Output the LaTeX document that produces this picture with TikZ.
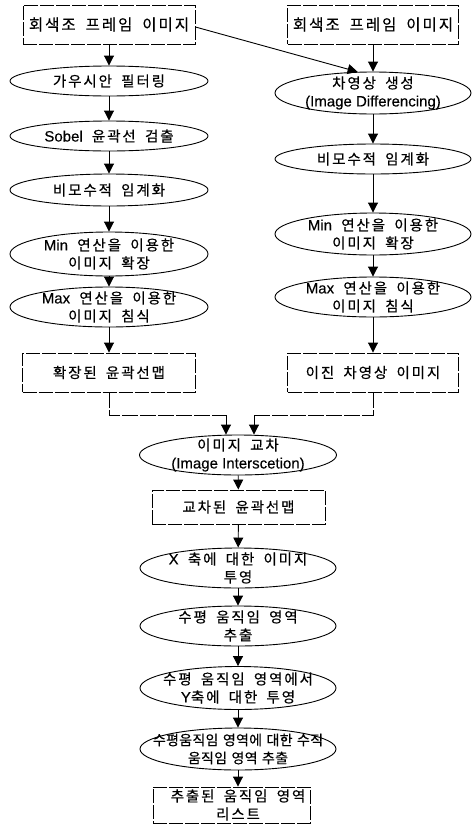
\documentclass[tikz,border=0pt]{standalone}
\usepackage{fontspec}
\usetikzlibrary{arrows.meta,shapes.geometric}
\newfontfamily\kr{Noto Sans CJK KR}[LetterSpace=13,WordSpace=1.8,FakeBold=0.4]
\newfontfamily\krtight{Noto Sans CJK KR}[LetterSpace=2,WordSpace=1.3,FakeBold=0.4]
\newfontfamily\lat{Liberation Sans}[FakeBold=0.3]
\newcommand\La[1]{{\lat\fontsize{15}{18}\selectfont #1}}
\tikzset{
  box/.style={draw, line width=0.9pt, dash pattern=on 14pt off 2pt, inner sep=0pt,
    align=center, font=\kr\fontsize{14.5}{17.5}\selectfont},
  topbox/.style={box, font=\kr\fontsize{15.5}{18}\selectfont},
  oval/.style={draw, ellipse, line width=0.9pt, inner sep=0pt},
  txt/.style={inner sep=0pt, align=center, font=\kr\fontsize{14.5}{18}\selectfont},
  arr/.style={-{Triangle[length=10pt,width=10pt]}, line width=0.9pt},
  link/.style={line width=0.9pt, dash pattern=on 16pt off 2pt},
}
\begin{document}
\begin{tikzpicture}[x=1pt,y=-1pt]
\useasboundingbox (0,0) rectangle (472,825);
% left column
\node[topbox, minimum width=172pt, minimum height=39pt] (A1) at (109,24.5) {회색조 프레임 이미지};
\node[oval, minimum width=198pt, minimum height=30pt] (A2) at (109,81) {};
\node[txt] (A2t) at (A2) {가우시안 필터링};
\node[oval, minimum width=198pt, minimum height=30pt] (A3) at (109,136) {};
\node[txt] (A3t) at (A3) {\La{Sobel} 윤곽선 검출};
\node[oval, minimum width=198pt, minimum height=32pt] (A4) at (109,190) {};
\node[txt] (A4t) at (A4) {비모수적 임계화};
\node[oval, minimum width=198pt, minimum height=44pt] (A5) at (109,254) {};
\node[txt] (A5t) at (A5) {\La{Min} 연산을 이용한\\이미지 확장};
\node[oval, minimum width=198pt, minimum height=40pt] (A6) at (109,307) {};
\node[txt] (A6t) at (A6) {\La{Max} 연산을 이용한\\이미지 침식};
\node[box, minimum width=173pt, minimum height=39pt] (A7) at (109,372.5) {확장된 윤곽선맵};
% right column
\node[topbox, minimum width=171pt, minimum height=39pt] (B1) at (373,24.5) {회색조 프레임 이미지};
\node[oval, minimum width=196pt, minimum height=42pt] (B2) at (373,93) {};
\node[txt] (B2t) at (B2) {차영상 생성\\\La{(Image Differencing)}};
\node[oval, minimum width=196pt, minimum height=30pt] (B3) at (373,159) {};
\node[txt] (B3t) at (B3) {비모수적 임계화};
\node[oval, minimum width=196pt, minimum height=42pt] (B4) at (373,234) {};
\node[txt] (B4t) at (B4) {\La{Min} 연산을 이용한\\이미지 확장};
\node[oval, minimum width=196pt, minimum height=40pt] (B5) at (373,297) {};
\node[txt] (B5t) at (B5) {\La{Max} 연산을 이용한\\이미지 침식};
\node[box, minimum width=171pt, minimum height=39pt] (B6) at (373,372.5) {이진 차영상 이미지};
% centre column
\node[oval, minimum width=197pt, minimum height=40pt] (C1) at (238,455) {};
\node[txt] (C1t) at (C1) {이미지 교차\\\La{(Image Interscetion)}};
\node[box, minimum width=173pt, minimum height=34pt] (C2) at (238.5,507) {교차된 윤곽선맵};
\node[oval, minimum width=196pt, minimum height=40pt] (C3) at (238,568) {};
\node[txt] (C3t) at (C3) {\La{X} 축에 대한 이미지\\투영};
\node[oval, minimum width=196pt, minimum height=40pt] (C4) at (238,626) {};
\node[txt] (C4t) at (C4) {수평 움직임 영역\\추출};
\node[oval, minimum width=196pt, minimum height=43pt] (C5) at (238,688) {};
\node[txt] (C5t) at (C5) {수평 움직임 영역에서\\\La{Y}축에 대한 투영};
\node[oval, minimum width=196pt, minimum height=42pt] (C6) at (238,749) {};
\node[txt, font=\krtight\fontsize{14}{18}\selectfont] (C6t) at (C6) {수평움직임 영역에 대한 수직\\움직임 영역 추출};
\node[box, minimum width=157pt, minimum height=36pt] (C7) at (231.5,805) {};
\node[txt] (C7t) at (238,805) {추출된 움직임 영역\\리스트};
% connectors
\draw[arr] (A1) -- (A2);
\draw[arr] (A2) -- (A3);
\draw[arr] (A3) -- (A4);
\draw[arr] (A4) -- (A5);
\draw[arr] (A5) -- (A6);
\draw[arr] (A6) -- (A7);
\draw[arr] (B1) -- (B2);
\draw[arr] (B2) -- (B3);
\draw[arr] (B3) -- (B4);
\draw[arr] (B4) -- (B5);
\draw[arr] (B5) -- (B6);
\draw[arr] ([yshift=-2.5pt]A1.east) -- (B2.126);
\coordinate (jL) at (226,415);
\coordinate (jR) at (254,415);
\draw[link] (A7.south) |- (jL);
\draw[arr] (jL) -- (jL |- C1.north);
\draw[link] (B6.south) |- (jR);
\draw[arr] (jR) -- (jR |- C1.north);
\draw[arr] (C1) -- (C2);
\draw[arr] (C2) -- (C3);
\draw[arr] (C3) -- (C4);
\draw[arr] (C4) -- (C5);
\draw[arr] (C5) -- (C6);
\draw[arr] (C6.south) -- (C6.south |- C7.north);
\end{tikzpicture}
\end{document}
